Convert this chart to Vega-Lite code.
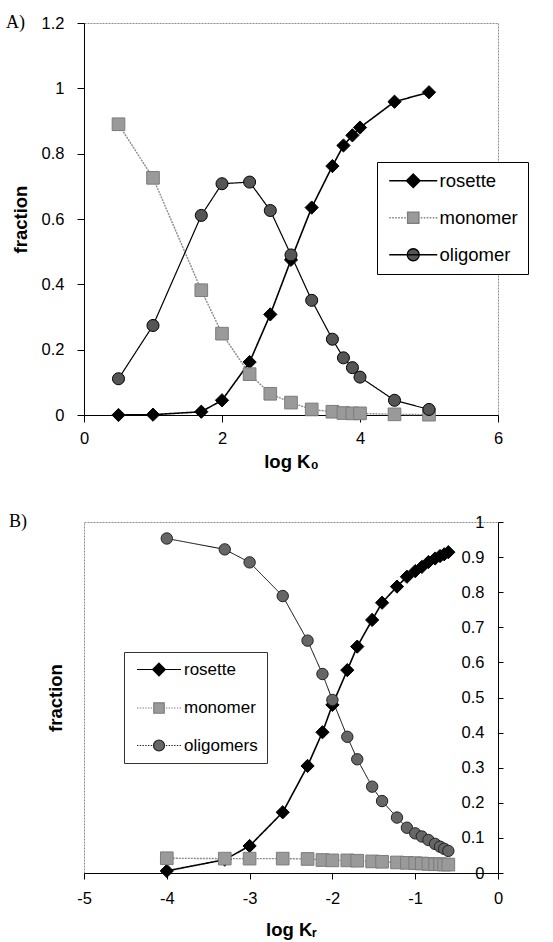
{
  "$schema": "https://vega.github.io/schema/vega-lite/v6.json",
  "background": "white",
  "padding": {"left": 5, "top": 13, "right": 0, "bottom": 0},
  "spacing": 41,
  "columns": 1,
  "align": "none",
  "config": {
    "view": {"stroke": "#8c8c8c", "strokeDash": [2, 1]},
    "axis": {
      "labelFont": "Liberation Sans", "titleFont": "Liberation Sans",
      "labelColor": "black", "titleColor": "black", "domainColor": "black", "tickColor": "black",
      "grid": false, "labelFontSize": 16.5, "titleFontSize": 18.5, "titleFontWeight": "bold",
      "labelFlush": false, "labelOverlap": false
    }
  },
  "datasets": {
    "a": [
      {"x": 0.5, "y": 0.0, "series": "rosette"},
      {"x": 1.0, "y": 0.001, "series": "rosette"},
      {"x": 1.7, "y": 0.01, "series": "rosette"},
      {"x": 2.0, "y": 0.045, "series": "rosette"},
      {"x": 2.4, "y": 0.162, "series": "rosette"},
      {"x": 2.7, "y": 0.308, "series": "rosette"},
      {"x": 3.0, "y": 0.475, "series": "rosette"},
      {"x": 3.3, "y": 0.635, "series": "rosette"},
      {"x": 3.6, "y": 0.762, "series": "rosette"},
      {"x": 3.76, "y": 0.825, "series": "rosette"},
      {"x": 3.89, "y": 0.856, "series": "rosette"},
      {"x": 4.0, "y": 0.88, "series": "rosette"},
      {"x": 4.5, "y": 0.959, "series": "rosette"},
      {"x": 5.0, "y": 0.988, "series": "rosette"},
      {"x": 0.5, "y": 0.89, "series": "monomer"},
      {"x": 1.0, "y": 0.726, "series": "monomer"},
      {"x": 1.7, "y": 0.382, "series": "monomer"},
      {"x": 2.0, "y": 0.249, "series": "monomer"},
      {"x": 2.4, "y": 0.125, "series": "monomer"},
      {"x": 2.7, "y": 0.065, "series": "monomer"},
      {"x": 3.0, "y": 0.038, "series": "monomer"},
      {"x": 3.3, "y": 0.017, "series": "monomer"},
      {"x": 3.6, "y": 0.01, "series": "monomer"},
      {"x": 3.76, "y": 0.006, "series": "monomer"},
      {"x": 3.89, "y": 0.005, "series": "monomer"},
      {"x": 4.0, "y": 0.005, "series": "monomer"},
      {"x": 4.5, "y": 0.002, "series": "monomer"},
      {"x": 5.0, "y": 0.001, "series": "monomer"},
      {"x": 0.5, "y": 0.111, "series": "oligomer"},
      {"x": 1.0, "y": 0.274, "series": "oligomer"},
      {"x": 1.7, "y": 0.611, "series": "oligomer"},
      {"x": 2.0, "y": 0.708, "series": "oligomer"},
      {"x": 2.4, "y": 0.713, "series": "oligomer"},
      {"x": 2.7, "y": 0.626, "series": "oligomer"},
      {"x": 3.0, "y": 0.49, "series": "oligomer"},
      {"x": 3.3, "y": 0.351, "series": "oligomer"},
      {"x": 3.6, "y": 0.232, "series": "oligomer"},
      {"x": 3.76, "y": 0.175, "series": "oligomer"},
      {"x": 3.89, "y": 0.145, "series": "oligomer"},
      {"x": 4.0, "y": 0.116, "series": "oligomer"},
      {"x": 4.5, "y": 0.045, "series": "oligomer"},
      {"x": 5.0, "y": 0.017, "series": "oligomer"}
    ],
    "b": [
      {"x": -4.0, "y": 0.006, "series": "rosette"},
      {"x": -3.3, "y": 0.038, "series": "rosette"},
      {"x": -3.0, "y": 0.077, "series": "rosette"},
      {"x": -2.6, "y": 0.173, "series": "rosette"},
      {"x": -2.3, "y": 0.305, "series": "rosette"},
      {"x": -2.12, "y": 0.401, "series": "rosette"},
      {"x": -2.0, "y": 0.479, "series": "rosette"},
      {"x": -1.82, "y": 0.578, "series": "rosette"},
      {"x": -1.7, "y": 0.645, "series": "rosette"},
      {"x": -1.52, "y": 0.721, "series": "rosette"},
      {"x": -1.4, "y": 0.77, "series": "rosette"},
      {"x": -1.22, "y": 0.816, "series": "rosette"},
      {"x": -1.1, "y": 0.844, "series": "rosette"},
      {"x": -1.0, "y": 0.86, "series": "rosette"},
      {"x": -0.92, "y": 0.872, "series": "rosette"},
      {"x": -0.84, "y": 0.886, "series": "rosette"},
      {"x": -0.76, "y": 0.896, "series": "rosette"},
      {"x": -0.7, "y": 0.903, "series": "rosette"},
      {"x": -0.65, "y": 0.908, "series": "rosette"},
      {"x": -0.6, "y": 0.914, "series": "rosette"},
      {"x": -4.0, "y": 0.042, "series": "monomer"},
      {"x": -3.3, "y": 0.041, "series": "monomer"},
      {"x": -3.0, "y": 0.041, "series": "monomer"},
      {"x": -2.6, "y": 0.041, "series": "monomer"},
      {"x": -2.3, "y": 0.04, "series": "monomer"},
      {"x": -2.12, "y": 0.037, "series": "monomer"},
      {"x": -2.0, "y": 0.036, "series": "monomer"},
      {"x": -1.82, "y": 0.036, "series": "monomer"},
      {"x": -1.7, "y": 0.035, "series": "monomer"},
      {"x": -1.52, "y": 0.033, "series": "monomer"},
      {"x": -1.4, "y": 0.032, "series": "monomer"},
      {"x": -1.22, "y": 0.03, "series": "monomer"},
      {"x": -1.1, "y": 0.029, "series": "monomer"},
      {"x": -1.0, "y": 0.028, "series": "monomer"},
      {"x": -0.92, "y": 0.027, "series": "monomer"},
      {"x": -0.84, "y": 0.026, "series": "monomer"},
      {"x": -0.76, "y": 0.025, "series": "monomer"},
      {"x": -0.7, "y": 0.025, "series": "monomer"},
      {"x": -0.65, "y": 0.024, "series": "monomer"},
      {"x": -0.6, "y": 0.024, "series": "monomer"},
      {"x": -4.0, "y": 0.953, "series": "oligomers"},
      {"x": -3.3, "y": 0.922, "series": "oligomers"},
      {"x": -3.0, "y": 0.885, "series": "oligomers"},
      {"x": -2.6, "y": 0.789, "series": "oligomers"},
      {"x": -2.3, "y": 0.662, "series": "oligomers"},
      {"x": -2.12, "y": 0.567, "series": "oligomers"},
      {"x": -2.0, "y": 0.493, "series": "oligomers"},
      {"x": -1.82, "y": 0.388, "series": "oligomers"},
      {"x": -1.7, "y": 0.324, "series": "oligomers"},
      {"x": -1.52, "y": 0.246, "series": "oligomers"},
      {"x": -1.4, "y": 0.205, "series": "oligomers"},
      {"x": -1.22, "y": 0.158, "series": "oligomers"},
      {"x": -1.1, "y": 0.129, "series": "oligomers"},
      {"x": -1.0, "y": 0.113, "series": "oligomers"},
      {"x": -0.92, "y": 0.104, "series": "oligomers"},
      {"x": -0.84, "y": 0.094, "series": "oligomers"},
      {"x": -0.76, "y": 0.083, "series": "oligomers"},
      {"x": -0.7, "y": 0.075, "series": "oligomers"},
      {"x": -0.65, "y": 0.069, "series": "oligomers"},
      {"x": -0.6, "y": 0.063, "series": "oligomers"}
    ]
  },
  "concat": [
    {
      "width": 414,
      "height": 392,
      "title": {"text": "A)", "anchor": "start", "frame": "group", "font": "Liberation Serif", "fontSize": 18, "fontWeight": "normal", "color": "black", "offset": -17, "dx": -78},
      "data": {"name": "a"},
      "layer": [
        {
          "mark": {"type": "line"},
          "encoding": {
            "x": {"field": "x", "type": "quantitative", "scale": {"domain": [0, 6], "nice": false},
                  "axis": {"values": [0, 2, 4, 6], "title": "log K₀", "tickSize": 7, "labelPadding": 8.5, "titlePadding": 5}},
            "y": {"field": "y", "type": "quantitative", "scale": {"domain": [0, 1.2], "nice": false},
                  "axis": {"values": [0, 0.2, 0.4, 0.6, 0.8, 1, 1.2], "format": "~g", "title": "fraction", "tickSize": 7, "labelPadding": 13, "titlePadding": 11}},
            "stroke": {"field": "series", "type": "nominal", "scale": {"domain": ["rosette", "monomer", "oligomer"], "range": ["black", "#8a8a8a", "black"]}, "legend": null},
            "strokeDash": {"field": "series", "type": "nominal", "scale": {"domain": ["rosette", "monomer", "oligomer"], "range": [[1, 0], [2, 1], [1, 0]]}, "legend": null},
            "strokeWidth": {"field": "series", "type": "nominal", "scale": {"domain": ["rosette", "monomer", "oligomer"], "range": [1.6, 1, 1.1]}, "legend": null}
          }
        },
        {
          "mark": {"type": "point", "filled": true, "opacity": 1, "strokeWidth": 1},
          "encoding": {
            "x": {"field": "x", "type": "quantitative", "scale": {"domain": [0, 6], "nice": false},
                  "axis": {"values": [0, 2, 4, 6], "title": "log K₀", "tickSize": 7, "labelPadding": 8.5, "titlePadding": 5}},
            "y": {"field": "y", "type": "quantitative", "scale": {"domain": [0, 1.2], "nice": false},
                  "axis": {"values": [0, 0.2, 0.4, 0.6, 0.8, 1, 1.2], "format": "~g", "title": "fraction", "tickSize": 7, "labelPadding": 13, "titlePadding": 11}},
            "shape": {"field": "series", "type": "nominal", "scale": {"domain": ["rosette", "monomer", "oligomer"], "range": ["diamond", "square", "circle"]}, "legend": null},
            "fill": {"field": "series", "type": "nominal", "scale": {"domain": ["rosette", "monomer", "oligomer"], "range": ["black", "#9a9a9a", "#555555"]}, "legend": null},
            "stroke": {"field": "series", "type": "nominal", "scale": {"domain": ["rosette", "monomer", "oligomer"], "range": ["black", "#7c7c7c", "black"]}, "legend": null},
            "size": {"field": "series", "type": "nominal", "scale": {"domain": ["rosette", "monomer", "oligomer"], "range": [175, 130, 150]}, "legend": null}
          }
        },
        {
          "transform": [{"filter": "false"}],
          "mark": {"type": "point", "filled": true, "opacity": 1},
          "encoding": {
            "shape": {"field": "key", "type": "nominal",
              "scale": {"domain": ["rosette", "monomer", "oligomer"], "range": [
                "M-4,0L4,0M0,-1.15L1.15,0L0,1.15L-1.15,0Z",
                "M-4,0L-3.75,0M-3.5,0L-3.25,0M-3,0L-2.75,0M-2.5,0L-2.25,0M-2,0L-1.75,0M-1.5,0L-1.25,0M1.25,0L1.5,0M1.75,0L2,0M2.25,0L2.5,0M2.75,0L3,0M3.25,0L3.5,0M3.75,0L4,0M-0.95,-0.95L0.95,-0.95L0.95,0.95L-0.95,0.95Z",
                "M-4,0L4,0M-1,0A1,1,0,1,0,1,0A1,1,0,1,0,-1,0Z"
              ]},
              "legend": {"title": null, "orient": "none", "legendX": 293, "legendY": 139, "direction": "vertical",
                "strokeColor": "black", "fillColor": "white", "padding": 9.5, "symbolSize": 144, "symbolStrokeWidth": 1.3,
                "symbolOffset": 17.5, "labelOffset": 17, "labelFont": "Liberation Sans", "labelFontSize": 18.5, "labelColor": "black",
                "rowPadding": 18, "symbolOpacity": 1}},
            "fill": {"field": "key", "type": "nominal", "scale": {"domain": ["rosette", "monomer", "oligomer"], "range": ["black", "#9a9a9a", "#555555"]}},
            "stroke": {"field": "key", "type": "nominal", "scale": {"domain": ["rosette", "monomer", "oligomer"], "range": ["black", "#7c7c7c", "black"]}}
          }
        }
      ],
      "resolve": {"scale": {"shape": "independent", "fill": "independent", "stroke": "independent"}}
    },
    {
      "width": 414,
      "height": 351,
      "title": {"text": "B)", "anchor": "start", "frame": "group", "font": "Liberation Serif", "fontSize": 18, "fontWeight": "normal", "color": "black", "offset": -17, "dx": -75},
      "data": {"name": "b"},
      "layer": [
        {
          "mark": {"type": "line"},
          "encoding": {
            "x": {"field": "x", "type": "quantitative", "scale": {"domain": [-5, 0], "nice": false},
                  "axis": {"values": [-5, -4, -3, -2, -1, 0], "labelExpr": "'' + datum.value", "title": "log Kᵣ", "tickSize": 6, "labelPadding": 11, "titlePadding": 14}},
            "y": {"field": "y", "type": "quantitative", "scale": {"domain": [0, 1], "nice": false},
                  "axis": {"orient": "left", "title": "fraction", "labels": false, "ticks": false, "domain": false, "titlePadding": 19, "minExtent": 0}},
            "stroke": {"field": "series", "type": "nominal", "scale": {"domain": ["rosette", "monomer", "oligomers"], "range": ["black", "#8a8a8a", "black"]}, "legend": null},
            "strokeDash": {"field": "series", "type": "nominal", "scale": {"domain": ["rosette", "monomer", "oligomers"], "range": [[1, 0], [2, 1], [1, 0]]}, "legend": null},
            "strokeWidth": {"field": "series", "type": "nominal", "scale": {"domain": ["rosette", "monomer", "oligomers"], "range": [1.5, 1, 1]}, "legend": null}
          }
        },
        {
          "mark": {"type": "point", "filled": true, "opacity": 1, "strokeWidth": 1},
          "encoding": {
            "x": {"field": "x", "type": "quantitative", "scale": {"domain": [-5, 0], "nice": false},
                  "axis": {"values": [-5, -4, -3, -2, -1, 0], "labelExpr": "'' + datum.value", "title": "log Kᵣ", "tickSize": 6, "labelPadding": 11, "titlePadding": 14}},
            "y": {"field": "y", "type": "quantitative", "scale": {"domain": [0, 1], "nice": false},
                  "axis": {"orient": "right", "title": null, "values": [0, 0.1, 0.2, 0.3, 0.4, 0.5, 0.6, 0.7, 0.8, 0.9, 1], "format": "~g", "tickSize": 5, "labelAlign": "right", "labelPadding": -19}},
            "shape": {"field": "series", "type": "nominal", "scale": {"domain": ["rosette", "monomer", "oligomers"], "range": ["diamond", "square", "circle"]}, "legend": null},
            "fill": {"field": "series", "type": "nominal", "scale": {"domain": ["rosette", "monomer", "oligomers"], "range": ["black", "#9a9a9a", "#666666"]}, "legend": null},
            "stroke": {"field": "series", "type": "nominal", "scale": {"domain": ["rosette", "monomer", "oligomers"], "range": ["black", "#7c7c7c", "#222222"]}, "legend": null},
            "size": {"field": "series", "type": "nominal", "scale": {"domain": ["rosette", "monomer", "oligomers"], "range": [165, 125, 140]}, "legend": null}
          }
        },
        {
          "transform": [{"filter": "false"}],
          "mark": {"type": "point", "filled": true, "opacity": 1},
          "encoding": {
            "shape": {"field": "key", "type": "nominal",
              "scale": {"domain": ["rosette", "monomer", "oligomers"], "range": [
                "M-4,0L4,0M0,-1.15L1.15,0L0,1.15L-1.15,0Z",
                "M-4,0L-3.75,0M-3.5,0L-3.25,0M-3,0L-2.75,0M-2.5,0L-2.25,0M-2,0L-1.75,0M-1.5,0L-1.25,0M1.25,0L1.5,0M1.75,0L2,0M2.25,0L2.5,0M2.75,0L3,0M3.25,0L3.5,0M3.75,0L4,0M-0.95,-0.95L0.95,-0.95L0.95,0.95L-0.95,0.95Z",
                "M-4,0L-3.75,0M-3.5,0L-3.25,0M-3,0L-2.75,0M-2.5,0L-2.25,0M-2,0L-1.75,0M-1.5,0L-1.25,0M1.25,0L1.5,0M1.75,0L2,0M2.25,0L2.5,0M2.75,0L3,0M3.25,0L3.5,0M3.75,0L4,0M-1,0A1,1,0,1,0,1,0A1,1,0,1,0,-1,0Z"
              ]},
              "legend": {"title": null, "orient": "none", "legendX": 40, "legendY": 130, "direction": "vertical",
                "strokeColor": "#333333", "fillColor": "white", "padding": 9, "symbolSize": 121, "symbolStrokeWidth": 1.2,
                "symbolOffset": 17.5, "labelOffset": 16.5, "labelFont": "Liberation Sans", "labelFontSize": 17, "labelColor": "black",
                "rowPadding": 19.5, "symbolOpacity": 1}},
            "fill": {"field": "key", "type": "nominal", "scale": {"domain": ["rosette", "monomer", "oligomers"], "range": ["black", "#9a9a9a", "#666666"]}},
            "stroke": {"field": "key", "type": "nominal", "scale": {"domain": ["rosette", "monomer", "oligomers"], "range": ["black", "#7c7c7c", "#222222"]}}
          }
        }
      ],
      "resolve": {"scale": {"shape": "independent", "fill": "independent", "stroke": "independent"}, "axis": {"y": "independent"}}
    }
  ]
}
